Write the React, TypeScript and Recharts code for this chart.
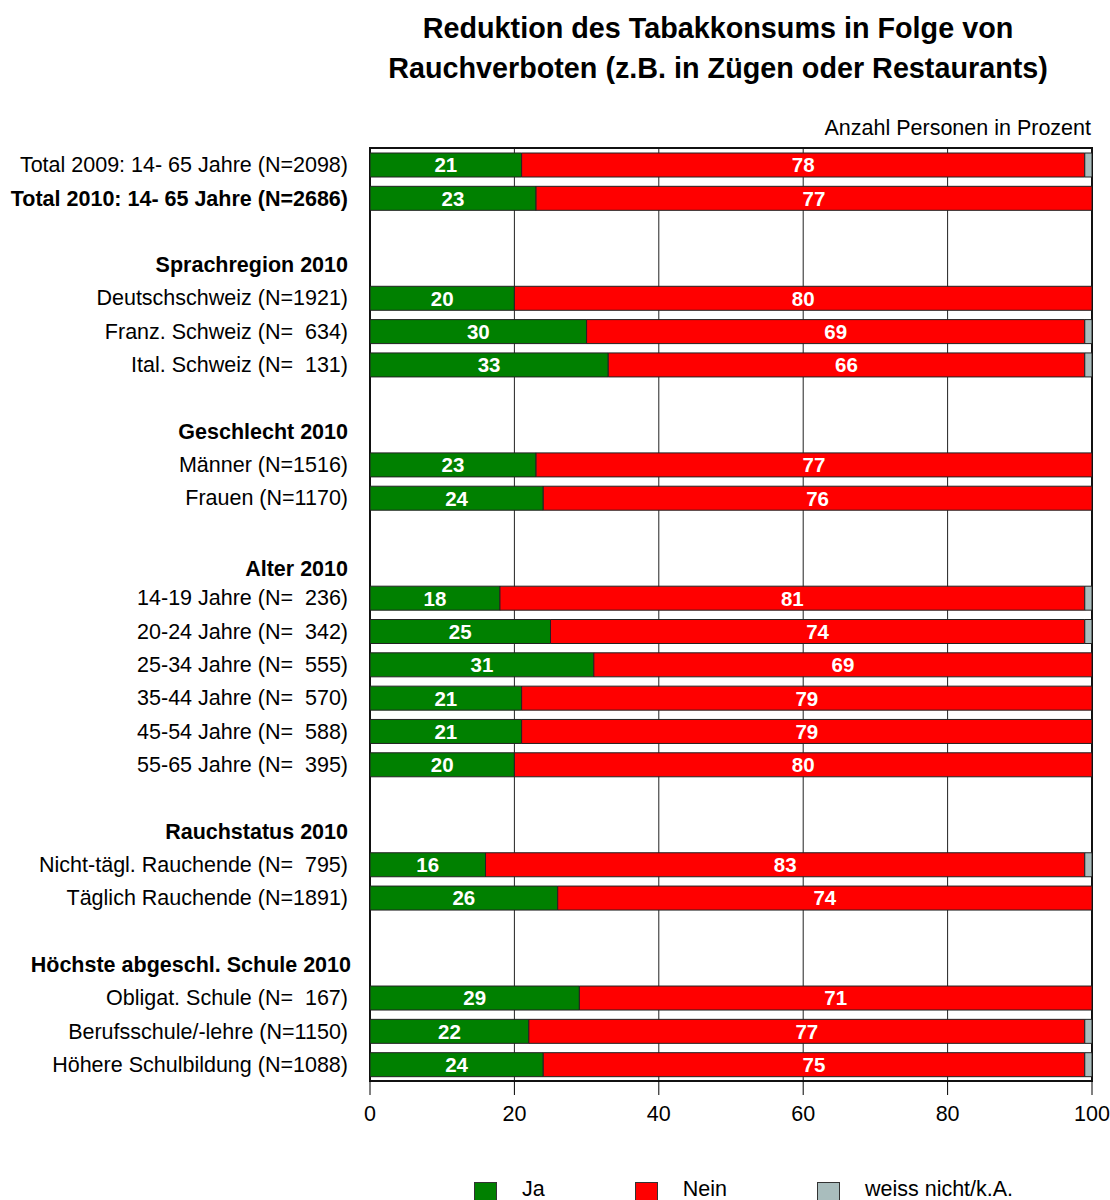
import React from 'react';
import { BarChart, Bar, XAxis, YAxis, CartesianGrid, LabelList, ReferenceArea } from 'recharts';

const categories = [
  'Total 2009: 14- 65 Jahre (N=2098)',
  'Total 2010: 14- 65 Jahre (N=2686)',
  '',
  'Sprachregion 2010',
  'Deutschschweiz (N=1921)',
  'Franz. Schweiz (N=  634)',
  'Ital. Schweiz (N=  131)',
  '',
  'Geschlecht 2010',
  'Männer (N=1516)',
  'Frauen (N=1170)',
  '',
  'Alter 2010',
  '14-19 Jahre (N=  236)',
  '20-24 Jahre (N=  342)',
  '25-34 Jahre (N=  555)',
  '35-44 Jahre (N=  570)',
  '45-54 Jahre (N=  588)',
  '55-65 Jahre (N=  395)',
  '',
  'Rauchstatus 2010',
  'Nicht-tägl. Rauchende (N=  795)',
  'Täglich Rauchende (N=1891)',
  '',
  'Höchste abgeschl. Schule 2010',
  'Obligat. Schule (N=  167)',
  'Berufsschule/-lehre (N=1150)',
  'Höhere Schulbildung (N=1088)',
];
const boldRows = [1, 3, 8, 12, 20, 24];

const ja = [21, 23, null, null, 20, 30, 33, null, null, 23, 24, null, null, 18, 25, 31, 21, 21, 20, null, null, 16, 26, null, null, 29, 22, 24];
const nein = [78, 77, null, null, 80, 69, 66, null, null, 77, 76, null, null, 81, 74, 69, 79, 79, 80, null, null, 83, 74, null, null, 71, 77, 75];
const weiss = [1, 0, null, null, 0, 1, 1, null, null, 0, 0, null, null, 1, 1, 0, 0, 0, 0, null, null, 1, 0, null, null, 0, 1, 1];

const xTicks = [0, 20, 40, 60, 80, 100];
const title = ['Reduktion des Tabakkonsums in Folge von', 'Rauchverboten (z.B. in Zügen oder Restaurants)'];
const subtitle = 'Anzahl Personen in Prozent';
const seriesNames = ['Ja', 'Nein', 'weiss nicht/k.A.'];
const seriesColors = ['#008000', '#ff0000', '#a9bdbd'];

const data = categories.map((label, i) => ({
  key: 'r' + i,
  label,
  bold: boldRows.includes(i),
  ja: ja[i],
  nein: nein[i],
  weiss: weiss[i],
}));

const FONT = '"Liberation Sans", Arial, sans-serif';
const FS = 21.5;

const YTick = (props: any) => {
  const { y, payload } = props;
  const idx = payload.index;
  const row = data[idx];
  if (!row) return null;
  const dyShift = idx === 12 ? 4 : 0;
  const dxShift = idx === 24 ? 3 : 0;
  return (
    <text
      x={348 + dxShift}
      y={y + dyShift}
      dy="0.35em"
      textAnchor="end"
      fontSize={FS}
      fontFamily={FONT}
      fontWeight={row.bold ? 'bold' : 'normal'}
      fill="#000"
      style={{ whiteSpace: 'pre' }}
    >
      {row.label}
    </text>
  );
};

const barLabel = (props: any) => {
  const { x, y, width, height, value } = props;
  if (value === null || value === undefined || value === 0) return null;
  return (
    <text
      x={x + width / 2}
      y={y + height / 2}
      dy="0.36em"
      textAnchor="middle"
      fontSize={20.5}
      fontWeight="bold"
      fontFamily={FONT}
      fill="#fff"
    >
      {value}
    </text>
  );
};

export default function App() {
  return (
    <div style={{ position: 'absolute', left: 0, top: 0, width: 1110, height: 1200, background: '#fff', fontFamily: FONT, overflow: 'hidden' }}>
      <div
        style={{
          position: 'absolute',
          left: 326,
          top: 8,
          width: 784,
          textAlign: 'center',
          fontSize: 28.75,
          fontWeight: 'bold',
          lineHeight: '40px',
          color: '#000',
          whiteSpace: 'nowrap',
        }}
      >
        {title.map((t) => (
          <div key={t}>{t}</div>
        ))}
      </div>
      <div
        style={{
          position: 'absolute',
          right: 1110 - 1091,
          top: 116,
          fontSize: FS,
          lineHeight: '24px',
          color: '#000',
          whiteSpace: 'nowrap',
        }}
      >
        {subtitle}
      </div>
      <div style={{ position: 'absolute', left: 0, top: 0 }}>
        <BarChart
          width={1110}
          height={1200}
          data={data}
          layout="vertical"
          margin={{ top: 148, right: 18, bottom: 89, left: 0 }}
          barSize={24}
        >
          <CartesianGrid horizontal={false} vertical stroke="#222" strokeWidth={1} />
          <XAxis
            type="number"
            domain={[0, 100]}
            ticks={xTicks}
            allowDataOverflow
            height={30}
            tickSize={14}
            tickMargin={11}
            axisLine={false}
            tickLine={{ stroke: '#000' }}
            tick={{ fill: '#000', fontSize: FS, fontFamily: FONT }}
          />
          <YAxis
            type="category"
            dataKey="key"
            width={370}
            axisLine={false}
            tickLine={false}
            interval={0}
            tick={<YTick />}
          />
          <Bar dataKey="ja" stackId="a" fill={seriesColors[0]} stroke="#222" strokeWidth={1} isAnimationActive={false}>
            <LabelList dataKey="ja" content={barLabel} />
          </Bar>
          <Bar dataKey="nein" stackId="a" fill={seriesColors[1]} stroke="#222" strokeWidth={1} isAnimationActive={false}>
            <LabelList dataKey="nein" content={barLabel} />
          </Bar>
          <Bar dataKey="weiss" stackId="a" fill={seriesColors[2]} stroke="#222" strokeWidth={1} isAnimationActive={false} />
          <ReferenceArea x1={0} x2={100} fill="none" fillOpacity={0} stroke="#111" strokeWidth={2} ifOverflow="visible" />
        </BarChart>
      </div>
      <div style={{ position: 'absolute', left: 474, top: 1180, display: 'flex', alignItems: 'flex-start' }}>
        {seriesNames.map((name, i) => (
          <div key={name} style={{ display: 'flex', alignItems: 'flex-start', marginRight: 90 }}>
            <div style={{ width: 23, height: 20, marginTop: 2, background: seriesColors[i], border: '1px solid #333', boxSizing: 'border-box' }} />
            <div style={{ marginLeft: 25, marginTop: -3, fontSize: FS, lineHeight: '24px', height: 24, color: '#000', whiteSpace: 'nowrap' }}>{name}</div>
          </div>
        ))}
      </div>
    </div>
  );
}
